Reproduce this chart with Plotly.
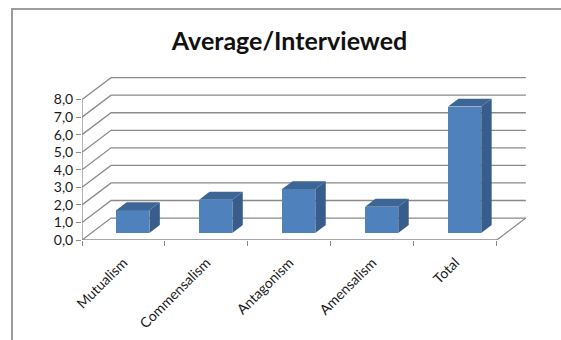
import plotly.graph_objects as go

categories = ["Mutualism", "Commensalism", "Antagonism", "Amensalism", "Total"]
values = [1.3, 1.9, 2.5, 1.5, 7.2]
y_ticks = [0, 1, 2, 3, 4, 5, 6, 7, 8]

# Oblique projection used to fake the 3-D column look
DX = 0.35            # shift along x for full floor depth (category units)
DY = 1.25            # shift along y for full floor depth (value units)
D0, D1 = 0.32, 0.68  # front / back of each column inside the floor depth
HALF = 0.2           # half column width (gap width 150%)

FRONT = "#4F81BD"
SIDE = "#385D8A"
TOP = "#3D6696"
GRID = "#8a8a8a"
FONT = "Lato"

W, H = 561, 340
L, R, T, B = 82, 31, 75, 100
XMAX, YMAX = 5.4, 9.4
n = len(categories)

fig = go.Figure()

# front faces of the columns
fig.add_trace(go.Bar(
    x=[i + 0.5 + D0 * DX for i in range(n)], y=values, base=D0 * DY,
    width=2 * HALF, marker=dict(color=FRONT, line_width=0),
    showlegend=False, hoverinfo="skip"))

# side and top faces
for i, v in enumerate(values):
    c = i + 0.5
    xr0, xr1 = c + HALF + D0 * DX, c + HALF + D1 * DX
    xl0, xl1 = c - HALF + D0 * DX, c - HALF + D1 * DX
    fig.add_trace(go.Scatter(
        x=[xr0, xr1, xr1, xr0, xr0],
        y=[D0 * DY, D1 * DY, v + D1 * DY, v + D0 * DY, D0 * DY],
        fill="toself", fillcolor=SIDE, mode="lines", line=dict(width=0, color=SIDE),
        showlegend=False, hoverinfo="skip"))
    fig.add_trace(go.Scatter(
        x=[xl0, xr0, xr1, xl1, xl0],
        y=[v + D0 * DY, v + D0 * DY, v + D1 * DY, v + D1 * DY, v + D0 * DY],
        fill="toself", fillcolor=TOP, mode="lines", line=dict(width=0, color=TOP),
        showlegend=False, hoverinfo="skip"))

shapes = []
# side-wall and back-wall gridlines
for t in y_ticks:
    shapes.append(dict(type="path", xref="x", yref="y", layer="below",
                       path=f"M 0,{t} L {DX},{t + DY} L {n + DX},{t + DY}",
                       line=dict(color=GRID, width=1.3)))
# floor edge on the right and the two front axis lines
shapes.append(dict(type="line", xref="x", yref="y", layer="below",
                   x0=n, y0=0, x1=n + DX, y1=DY, line=dict(color=GRID, width=1.3)))
shapes.append(dict(type="line", xref="x", yref="y", layer="below",
                   x0=0, y0=0, x1=n, y1=0, line=dict(color=GRID, width=1.3)))
shapes.append(dict(type="line", xref="x", yref="y", layer="below",
                   x0=0, y0=0, x1=0, y1=y_ticks[-1], line=dict(color=GRID, width=1.3)))

# chart-area border (top and left edges visible)
pw, ph = W - L - R, H - T - B
bx = (12 - L) / pw
by = (H - B - 9) / ph
bright = (W - L) / pw
bbottom = -B / ph
shapes.append(dict(type="path", xref="paper", yref="paper",
                   path=f"M {bx},{bbottom} L {bx},{by} L {bright},{by}",
                   line=dict(color="#9c9c9c", width=2)))

fig.update_layout(
    width=W, height=H,
    margin=dict(l=L, r=R, t=T, b=B, autoexpand=False),
    paper_bgcolor="white", plot_bgcolor="white",
    separators=", ",
    font=dict(family=FONT, color="#1a1a1a"),
    title=dict(text="<b>Average/Interviewed</b>", xref="container", yref="container",
               x=289.5 / W, y=1 - 41 / H, xanchor="center", yanchor="middle",
               font=dict(family=FONT, size=25, color="#111111")),
    shapes=shapes,
    bargap=0,
    xaxis=dict(range=[0, XMAX], tickvals=list(range(n + 1)), showticklabels=False,
               ticks="outside", ticklen=5, tickcolor=GRID, tickwidth=1.3,
               showgrid=False, zeroline=False, showline=False, automargin=False),
    xaxis2=dict(range=[0, XMAX], overlaying="x", side="bottom",
                tickvals=[i + 0.5 for i in range(n)], ticktext=categories,
                tickangle=-45, ticks="outside", ticklen=8, tickcolor="rgba(0,0,0,0)",
                tickfont=dict(family=FONT, size=14, color="#1a1a1a"),
                showgrid=False, zeroline=False, showline=False, automargin=False),
    yaxis=dict(range=[0, YMAX], tickvals=y_ticks, tickformat=".1f",
               ticks="outside", ticklen=5, tickcolor=GRID, tickwidth=1.3,
               tickfont=dict(family=FONT, size=14, color="#1a1a1a"),
               showgrid=False, zeroline=False, showline=False, automargin=False),
)

# invisible trace so the label axis is rendered
fig.add_trace(go.Scatter(x=[0], y=[0], xaxis="x2", mode="markers",
                         marker=dict(opacity=0), showlegend=False, hoverinfo="skip"))

fig.write_html("out.html")
